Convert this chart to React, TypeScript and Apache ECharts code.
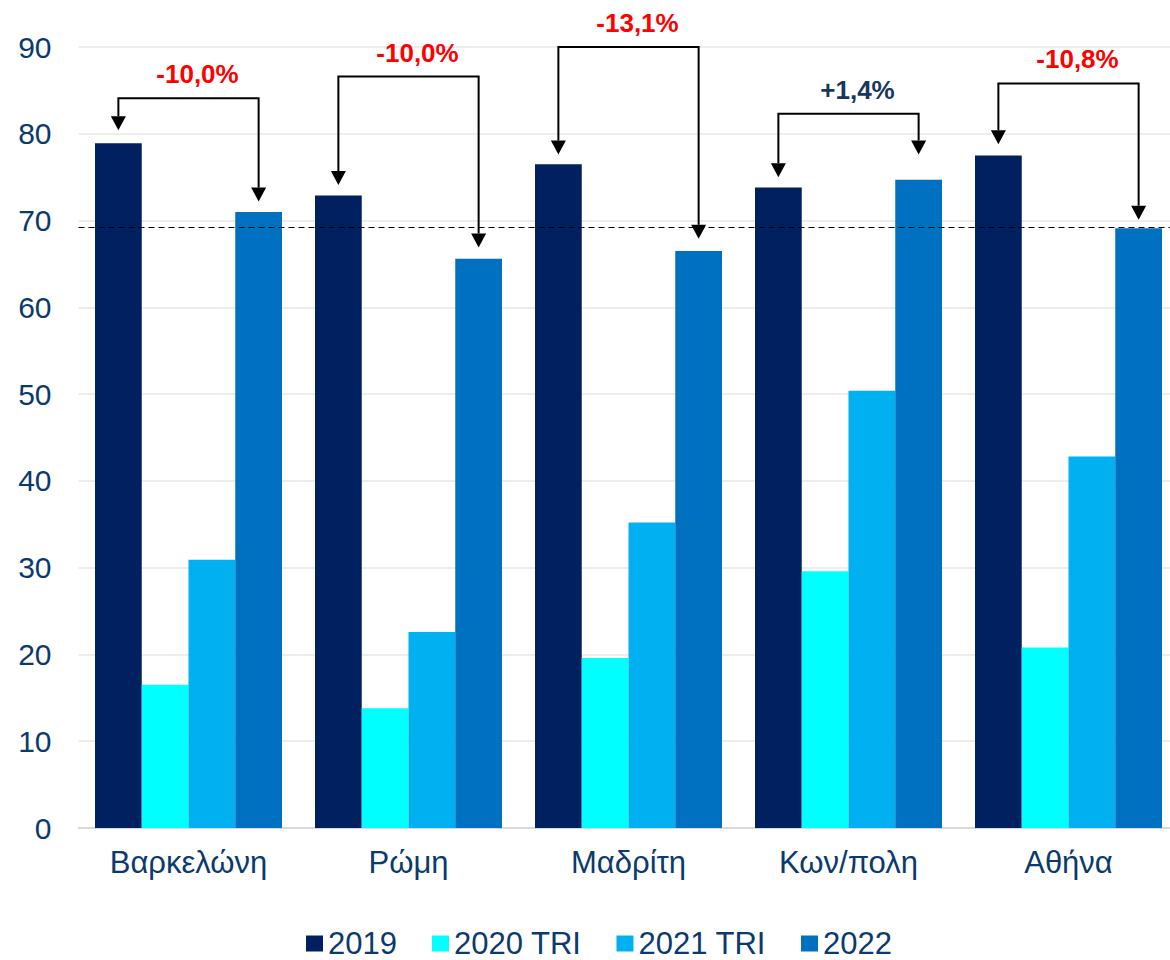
import React, { useEffect, useRef } from "react";
import * as echarts from "echarts";

const categories = ["Βαρκελώνη", "Ρώμη", "Μαδρίτη", "Κων/πολη", "Αθήνα"];
const seriesNames = ["2019", "2020 TRI", "2021 TRI", "2022"];
const values2019 = [78.9, 72.9, 76.5, 73.8, 77.5];
const values2020 = [16.5, 13.8, 19.6, 29.6, 20.8];
const values2021 = [30.9, 22.6, 35.2, 50.4, 42.8];
const values2022 = [71.0, 65.6, 66.5, 74.7, 69.1];
const changeLabels = ["-10,0%", "-10,0%", "-13,1%", "+1,4%", "-10,8%"];
const bracketLevels = [84.1, 86.6, 90.0, 82.3, 85.8];
const leftTipLevels = [80.4, 74.1, 77.6, 75.0, 78.8];
const rightTipLevels = [72.2, 66.9, 67.9, 77.6, 70.1];
const referenceLevel = 69.2;
const yTicks = { min: 0, max: 90, interval: 10 };

const COLORS = ["#002060", "#00FFFF", "#00B0F0", "#0070C0"];
const TEXT = "#0B3A6E";
const FONT = '"Liberation Sans", Arial, sans-serif';

export default function App() {
  const ref = useRef<HTMLDivElement>(null);
  useEffect(() => {
    if (!ref.current) return;
    const chart = echarts.init(ref.current, undefined, { renderer: "svg" });
    const seriesData = [values2019, values2020, values2021, values2022];
    const bars: any[] = seriesNames.map((name, k) => ({
      name,
      type: "bar",
      data: seriesData[k],
      barGap: "0%",
      barCategoryGap: "15%",
      itemStyle: { color: COLORS[k] },
      ...(k === 3
        ? {
            markLine: {
              silent: true,
              symbol: ["none", "none"],
              label: { show: false },
              lineStyle: { color: "#000", type: [6, 4], width: 1.2 },
              data: [{ yAxis: referenceLevel }],
            },
          }
        : {}),
    }));
    const arrows = {
      type: "custom",
      name: "arrows",
      silent: true,
      clip: false,
      z: 10,
      data: categories.map((_, i) => [i, bracketLevels[i], leftTipLevels[i], rightTipLevels[i]]),
      encode: { x: 0, y: 1 },
      renderItem: (params: any, api: any) => {
        const i = api.value(0);
        const c = api.coord([i, 0]);
        const band = api.size([1, 0])[0];
        const bw = (band * 0.85) / 4;
        const xl = c[0] - 1.5 * bw;
        const xr = c[0] + 1.5 * bw;
        const yb = api.coord([i, api.value(1)])[1];
        const yl = api.coord([i, api.value(2)])[1];
        const yr = api.coord([i, api.value(3)])[1];
        const ah = 14;
        const aw = 7.5;
        const lbl = changeLabels[i];
        const color = lbl.startsWith("+") ? "#17375E" : "#FF0000";
        return {
          type: "group",
          children: [
            {
              type: "polyline",
              shape: { points: [[xl, yl - ah], [xl, yb], [xr, yb], [xr, yr - ah]] },
              style: { stroke: "#000", lineWidth: 2, fill: "none" },
            },
            {
              type: "polygon",
              shape: { points: [[xl - aw, yl - ah], [xl + aw, yl - ah], [xl, yl]] },
              style: { fill: "#000" },
            },
            {
              type: "polygon",
              shape: { points: [[xr - aw, yr - ah], [xr + aw, yr - ah], [xr, yr]] },
              style: { fill: "#000" },
            },
            {
              type: "text",
              x: c[0] + 9,
              y: yb - 24,
              style: {
                text: lbl,
                fill: color,
                font: `bold 26px ${FONT}`,
                align: "center",
                verticalAlign: "middle",
              },
            },
          ],
        };
      },
    };
    chart.setOption({
      animation: false,
      textStyle: { fontFamily: FONT },
      grid: {
        left: 78.5,
        width: 1100,
        top: 47,
        bottom: 132,
        containLabel: false,
        outerBoundsMode: "none",
      },
      legend: {
        data: seriesNames,
        left: 306,
        top: 928,
        icon: "rect",
        itemWidth: 17,
        itemHeight: 16,
        itemGap: 35,
        padding: 0,
        textStyle: { color: TEXT, fontSize: 31, fontFamily: FONT },
      },
      xAxis: {
        type: "category",
        data: categories,
        axisLine: { lineStyle: { color: "#D9D9D9", width: 2 } },
        axisTick: { show: false },
        axisLabel: { color: TEXT, fontSize: 31, margin: 19, fontFamily: FONT },
      },
      yAxis: {
        type: "value",
        min: yTicks.min,
        max: yTicks.max,
        interval: yTicks.interval,
        axisLine: { show: false },
        axisTick: { show: false },
        splitLine: { lineStyle: { color: "#EDEDED", width: 2 } },
        axisLabel: { color: TEXT, fontSize: 30, margin: 27, fontFamily: FONT },
      },
      series: [...bars, arrows],
    });
    return () => chart.dispose();
  }, []);
  return <div ref={ref} style={{ position: "absolute", left: 0, top: 0, width: 1170, height: 960 }} />;
}
